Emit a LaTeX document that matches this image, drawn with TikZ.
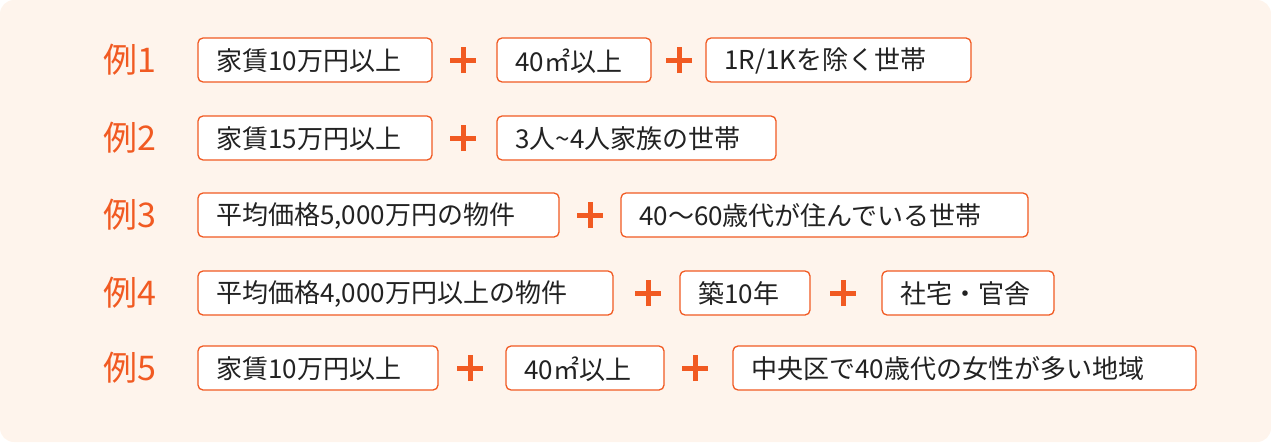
\documentclass[tikz,border=0pt]{standalone}
\usepackage{fontspec}
\setmainfont{Noto Sans CJK JP}
\definecolor{org}{HTML}{F15A22}
\definecolor{bg}{HTML}{FEF4EC}
\definecolor{txt}{HTML}{222222}
\begin{document}
\begin{tikzpicture}[x=1pt,y=-1pt,
  bx/.style={draw=org,line width=1.3pt,fill=white,rounded corners=5pt},
  tx/.style={anchor=west,inner sep=0pt,font=\fontsize{26}{26}\selectfont,text=txt},
  lb/.style={anchor=west,inner sep=0pt,font=\fontsize{34}{34}\selectfont,text=org},
  pl/.style={draw=org,line width=5pt}]
\fill[bg,rounded corners=14pt] (0,0) rectangle (1271,442);
\useasboundingbox (0,0) rectangle (1271,442);
\newcommand{\bxx}[5]{% name, x1, x2, yc, text
  \draw[bx] (#2,#4-22) rectangle (#3,#4+22);
  \node[tx] (#1) at (#2+18,#4+1) {#5};}
\newcommand{\plus}[3]{%
  \coordinate (#1) at (#2,#3);
  \draw[pl] ([xshift=-13pt]#1) -- ([xshift=13pt]#1) ([yshift=-13pt]#1) -- ([yshift=13pt]#1);}
% row 1
\node[lb] (l1) at (103,60) {例1};
\bxx{a1}{198}{432}{60}{家賃10万円以上}
\plus{p11}{463}{60}
\bxx{a2}{497}{651}{60}{40㎡以上}
\plus{p12}{679}{60}
\bxx{a3}{706}{971}{60}{1R/1Kを除く世帯}
% row 2
\node[lb] (l2) at (103,138) {例2};
\bxx{b1}{198}{432}{138}{家賃15万円以上}
\plus{p21}{463}{138}
\bxx{b2}{497}{776}{138}{3人\string~4人家族の世帯}
% row 3
\node[lb] (l3) at (103,215) {例3};
\bxx{c1}{198}{559}{215}{平均価格5,000万円の物件}
\plus{p31}{590}{215}
\bxx{c2}{621}{1028}{215}{40〜60歳代が住んでいる世帯}
% row 4
\node[lb] (l4) at (103,293) {例4};
\bxx{d1}{198}{613}{293}{平均価格4,000万円以上の物件}
\plus{p41}{648}{293}
\bxx{d2}{680}{810}{293}{築10年}
\plus{p42}{843}{293}
\bxx{d3}{882}{1054}{293}{社宅・官舎}
% row 5
\node[lb] (l5) at (103,368) {例5};
\bxx{e1}{198}{438}{368}{家賃10万円以上}
\plus{p51}{470}{368}
\bxx{e2}{506}{664}{368}{40㎡以上}
\plus{p52}{695}{368}
\bxx{e3}{733}{1196}{368}{中央区で40歳代の女性が多い地域}
\end{tikzpicture}
\end{document}
